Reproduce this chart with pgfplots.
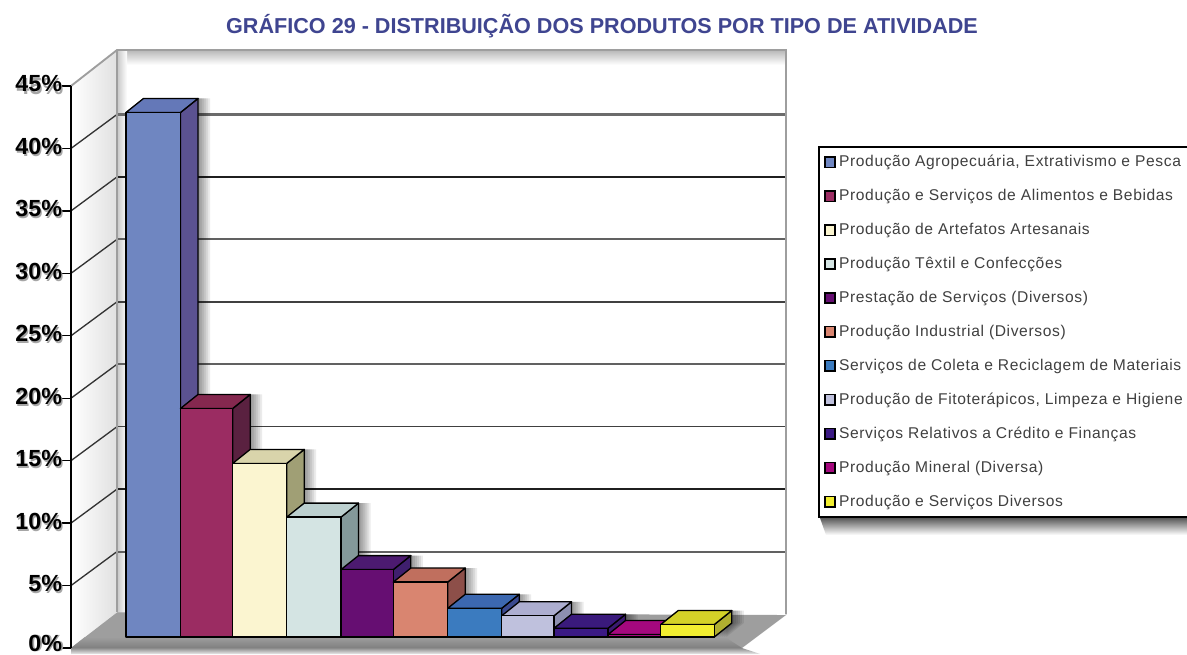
\documentclass[border=0pt]{standalone}
\usepackage{fontspec}
\setmainfont{Liberation Sans}
\newfontfamily\legfont[LetterSpace=4]{Liberation Sans}
\usepackage{pgfplots}
\pgfplotsset{compat=1.18}
\definecolor{titleblue}{HTML}{3F4590}
\newcommand{\dc}[1]{\definecolor{#1}{HTML}{#1}}
\dc{6F86C1}\dc{6478B8}\dc{5B5291}\dc{9B2C62}\dc{85284F}\dc{5A2140}\dc{FBF5D0}\dc{D9D4AB}\dc{A09F75}
\dc{D4E4E3}\dc{BCD0CF}\dc{84999A}\dc{660E72}\dc{4C1A70}\dc{3F1F6E}\dc{D98570}\dc{C06F5E}\dc{8D4F49}
\dc{3B7BBF}\dc{3C68B0}\dc{3A4A90}\dc{BFC1DD}\dc{ADAED0}\dc{8D8FB0}\dc{3B1A84}\dc{3A1A7C}\dc{3A1A70}
\dc{A5087E}\dc{7A0A60}\dc{F2EE30}\dc{D4D228}\dc{B0AE30}
\newcommand{\shd}[1]{\rlap{\smash{\raisebox{-1.6pt}{\hspace{1pt}\textcolor{black!35}{#1}}}}#1}
\newcommand{\shdz}[1]{\rlap{\smash{\raisebox{0pt}{\hspace{1.4pt}\textcolor{black!35}{#1}}}}#1}
% one 3D bar: x0, x1, value in percent, front, top, side
\newcommand{\cuboid}[6]{%
  \pgfmathsetmacro{\yb}{0.88}%
  \pgfmathsetmacro{\yt}{0.88+#3}%
  \pgfmathsetmacro{\ybb}{\yb+1.12}%
  \pgfmathsetmacro{\ytb}{\yt+1.12}%
  \pgfmathsetmacro{\xa}{#1+17.5}%
  \pgfmathsetmacro{\xc}{#2+17.5}%
  \foreach \s in {2,4,6,8,10,12}{%
    \pgfmathsetmacro{\sa}{#2+\s}\pgfmathsetmacro{\sb}{\xa+\s}\pgfmathsetmacro{\sc}{\xc+\s}%
    \edef\tmp{\noexpand\addplot[fill=black,draw=none,fill opacity=0.08] coordinates {(\sb,\ytb)(\sc,\ytb)(\sc,\ybb)(\sa,\yb)(\sa,\yt)} --cycle;}\tmp
  }%
  \edef\tmp{\noexpand\addplot[fill=#6,draw=black,line width=1pt,line join=round] coordinates {(#2,\yb)(#2,\yt)(\xc,\ytb)(\xc,\ybb)} --cycle;}\tmp
  \edef\tmp{\noexpand\addplot[fill=#5,draw=black,line width=1pt,line join=round] coordinates {(#1,\yt)(\xa,\ytb)(\xc,\ytb)(#2,\yt)} --cycle;}\tmp
  \edef\tmp{\noexpand\addplot[fill=#4,draw=black,line width=1pt,line join=round] coordinates {(#1,\yb)(#1,\yt)(#2,\yt)(#2,\yb)} --cycle;}\tmp
}
\newcommand{\gridl}[3]{%
  \pgfmathsetmacro{\gb}{#1+2.72}%
  \edef\tmp{\noexpand\addplot[draw=black!80,line width=1pt] coordinates {(71,#1)(117,\gb)};}\tmp
  \edef\tmp{\noexpand\addplot[draw=#3,line width=#2] coordinates {(117,\gb)(786,\gb)};}\tmp
}
\begin{document}
\begin{tikzpicture}
\path[use as bounding box,fill=white] (0,0) rectangle (890.25pt,490.5pt);
\begin{axis}[
  at={(53.25pt,4.5pt)},anchor=south west,
  scale only axis,width=536.25pt,height=421.5pt,
  xmin=71,xmax=786,ymin=0,ymax=45,
  clip=false,axis on top,
  axis x line=none,axis y line=left,
  axis line style={-,line width=1pt,black},
  y axis line style={-},
  ytick={0,5,10,15,20,25,30,35,40,45},
  yticklabels={\raisebox{4pt}{\shdz{0\%}},\shd{5\%},\shd{10\%},\shd{15\%},\shd{20\%},\shd{25\%},\shd{30\%},\shd{35\%},\shd{40\%},\shd{45\%}},
  tick align=outside,major tick length=6.5pt,
  tick style={line width=1pt,black},
  yticklabel style={font=\fontsize{17.5}{20}\selectfont\bfseries,text=black,inner sep=0pt,yshift=1.6pt},
  title={\fontsize{16.2}{18}\selectfont\bfseries\color{titleblue}GRÁFICO 29 - DISTRIBUIÇÃO DOS PRODUTOS POR TIPO DE ATIVIDADE},
  title style={at={(axis cs:602,49.16)},anchor=center,inner sep=0pt,yshift=0pt},
  every axis plot/.append style={forget plot},
  legend style={at={(axis cs:818,40.2)},anchor=north west,draw=black,line width=1.3pt,
    fill=white,inner xsep=4pt,inner ysep=6.5pt,row sep=15.45pt,
    nodes={inner sep=0pt,anchor=west,text=black!75,font=\legfont\fontsize{11.7}{13}\selectfont,line width=1pt}},
  legend cell align=left,
  legend image code/.code={\draw[#1,line width=1pt] (0pt,-3.8pt) rectangle (7.6pt,3.8pt);\path (10pt,0pt);},
]
% outer shadows
\addplot[draw=none,left color=black!35,right color=white] coordinates {(787,613)(787,53)(802,53)(802,613)} --cycle;
\addplot[draw=none,fill=black!45,fill opacity=0.45] coordinates {(742,648)(786,615)(802,615)(760,654)(742,654)} --cycle;
\addplot[draw=none,top color=black!45,bottom color=black!8] coordinates {(71,0)(742,0)(760,-0.48)(71,-0.48)} --cycle;
% walls
\addplot[draw=none,fill=white] coordinates {(117,47.88)(786,47.88)(786,2.8)(117,2.8)} --cycle;
\addplot[draw=none,top color=black!28,bottom color=white] coordinates {(117,47.88)(786,47.88)(786,46.7)(117,46.7)} --cycle;
\addplot[draw=none,left color=black!22,right color=white] coordinates {(117,47.88)(127,47.88)(127,2.8)(117,2.8)} --cycle;
\addplot[draw=none,left color=white,right color=black!12] coordinates {(71,45)(117,47.88)(117,2.88)(71,0)} --cycle;
% floor
\addplot[fill=black!38,draw=none] coordinates {(71,0)(117,2.85)(786,2.64)(742,0)} --cycle;
\addplot[draw=none,top color=black!38,bottom color=black!50] coordinates {(85,0.88)(725,0.88)(742,0)(71,0)} --cycle;
% grid lines
\gridl{5}{1.4pt}{black!62}
\gridl{10}{1pt}{black!88}
\gridl{15}{1.1pt}{black!75}
\gridl{20}{1.4pt}{black!62}
\gridl{25}{1.1pt}{black!75}
\gridl{30}{1.4pt}{black!62}
\gridl{35}{1pt}{black!88}
\gridl{40}{1.6pt}{black!58}
% frame
\addplot[draw=black!38,line width=1.4pt] coordinates {(71,45)(117,47.88)(786,47.88)(786,2.7)};
\addplot[draw=black!38,line width=1.4pt] coordinates {(117,47.88)(117,2.88)};
% bars
\cuboid{126}{180.5}{42.0}{6F86C1}{6478B8}{5B5291}
\cuboid{180.5}{232.7}{18.3}{9B2C62}{85284F}{5A2140}
\cuboid{232.7}{286.7}{13.9}{FBF5D0}{D9D4AB}{A09F75}
\cuboid{286.7}{341}{9.6}{D4E4E3}{BCD0CF}{84999A}
\cuboid{341}{393.3}{5.4}{660E72}{4C1A70}{3F1F6E}
\cuboid{393.3}{447.7}{4.4}{D98570}{C06F5E}{8D4F49}
\cuboid{447.7}{501.7}{2.3}{3B7BBF}{3C68B0}{3A4A90}
\cuboid{501.7}{554}{1.7}{BFC1DD}{ADAED0}{8D8FB0}
\cuboid{554}{608}{0.7}{3B1A84}{3A1A7C}{3A1A70}
\cuboid{608}{660.7}{0.2}{A5087E}{A5087E}{7A0A60}
\cuboid{660.7}{714.3}{1.0}{F2EE30}{D4D228}{B0AE30}
% legend shadow
\addplot[draw=none,top color=black!65,bottom color=white] coordinates {(820,10.41)(1187,10.41)(1187,9.05)(826,9.05)} --cycle;
\addlegendimage{fill=6F86C1,draw=black}\addlegendentry{Produção Agropecuária, Extrativismo e Pesca}
\addlegendimage{fill=9B2C62,draw=black}\addlegendentry{Produção e Serviços de Alimentos e Bebidas}
\addlegendimage{fill=FBF5D0,draw=black}\addlegendentry{Produção de Artefatos Artesanais}
\addlegendimage{fill=D4E4E3,draw=black}\addlegendentry{Produção Têxtil e Confecções}
\addlegendimage{fill=660E72,draw=black}\addlegendentry{Prestação de Serviços (Diversos)}
\addlegendimage{fill=D98570,draw=black}\addlegendentry{Produção Industrial (Diversos)}
\addlegendimage{fill=3B7BBF,draw=black}\addlegendentry{Serviços de Coleta e Reciclagem de Materiais}
\addlegendimage{fill=BFC1DD,draw=black}\addlegendentry{Produção de Fitoterápicos, Limpeza e Higiene\hspace*{12pt}}
\addlegendimage{fill=3B1A84,draw=black}\addlegendentry{Serviços Relativos a Crédito e Finanças}
\addlegendimage{fill=A5087E,draw=black}\addlegendentry{Produção Mineral (Diversa)}
\addlegendimage{fill=F2EE30,draw=black}\addlegendentry{Produção e Serviços Diversos}
\end{axis}
\end{tikzpicture}
\end{document}
